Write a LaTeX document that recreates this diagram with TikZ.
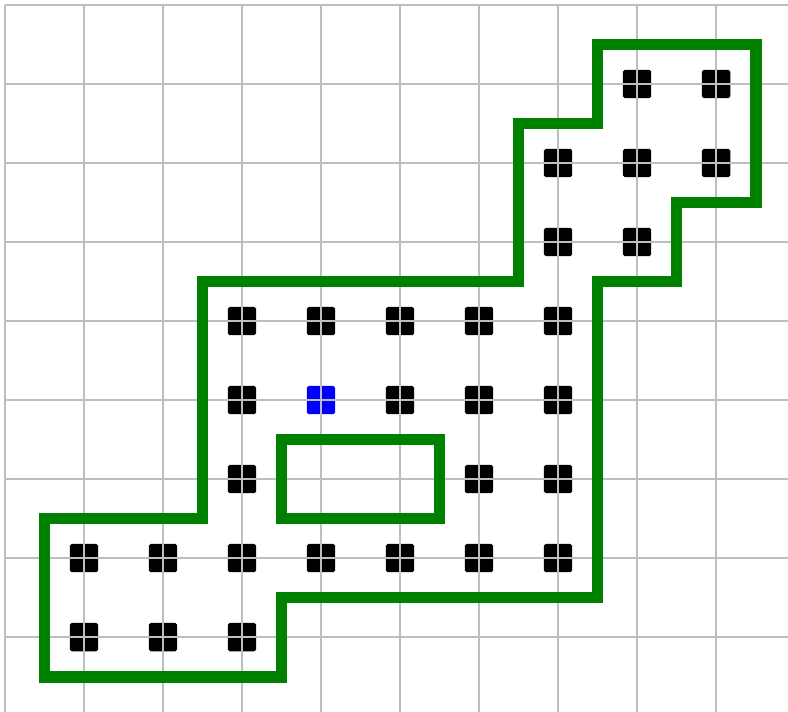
\documentclass[tikz,border=0pt]{standalone}
\definecolor{gridline}{HTML}{BEBEBE}
\definecolor{wall}{HTML}{008000}
\definecolor{cellink}{HTML}{000000}
\definecolor{startink}{HTML}{0000FF}
\tikzset{
  celldot/.style={draw=none, fill=#1, minimum size=0.36cm, inner sep=0pt, rounded corners=0.7pt},
  celldot/.default=cellink,
  gridrule/.style={gridline, line width=0.75pt},
  border/.style={wall, line width=4.3pt, line join=miter},
}
\newcommand{\cellat}[3]{\node[celldot=#3] (c-#1-#2) at (#1,#2) {};}

\begin{document}
\begin{tikzpicture}[x=1cm,y=-1cm]
\useasboundingbox (-0.063,-0.063) rectangle (9.911,8.949);

% ---------- cells (drawn first, grid runs over them)
\foreach \i/\j in {8/1,9/1,
                   7/2,8/2,9/2,
                   7/3,8/3,
                   3/4,4/4,5/4,6/4,7/4,
                   3/5,5/5,6/5,7/5,
                   3/6,6/6,7/6,
                   1/7,2/7,3/7,4/7,5/7,6/7,7/7,
                   1/8,2/8,3/8} {
  \cellat{\i}{\j}{cellink}
}
\cellat{4}{5}{startink}

% ---------- grid
\draw[gridrule] (0,0) grid (9.911,8.949);

% ---------- region border
\draw[border] (7.5,0.5) -- (9.5,0.5) -- (9.5,2.5) -- (8.5,2.5) -- (8.5,3.5) -- (7.5,3.5)
  -- (7.5,7.5) -- (3.5,7.5) -- (3.5,8.5) -- (0.5,8.5) -- (0.5,6.5) -- (2.5,6.5)
  -- (2.5,3.5) -- (6.5,3.5) -- (6.5,1.5) -- (7.5,1.5) -- cycle;
\draw[border] (3.5,5.5) rectangle (5.5,6.5);

\end{tikzpicture}
\end{document}
